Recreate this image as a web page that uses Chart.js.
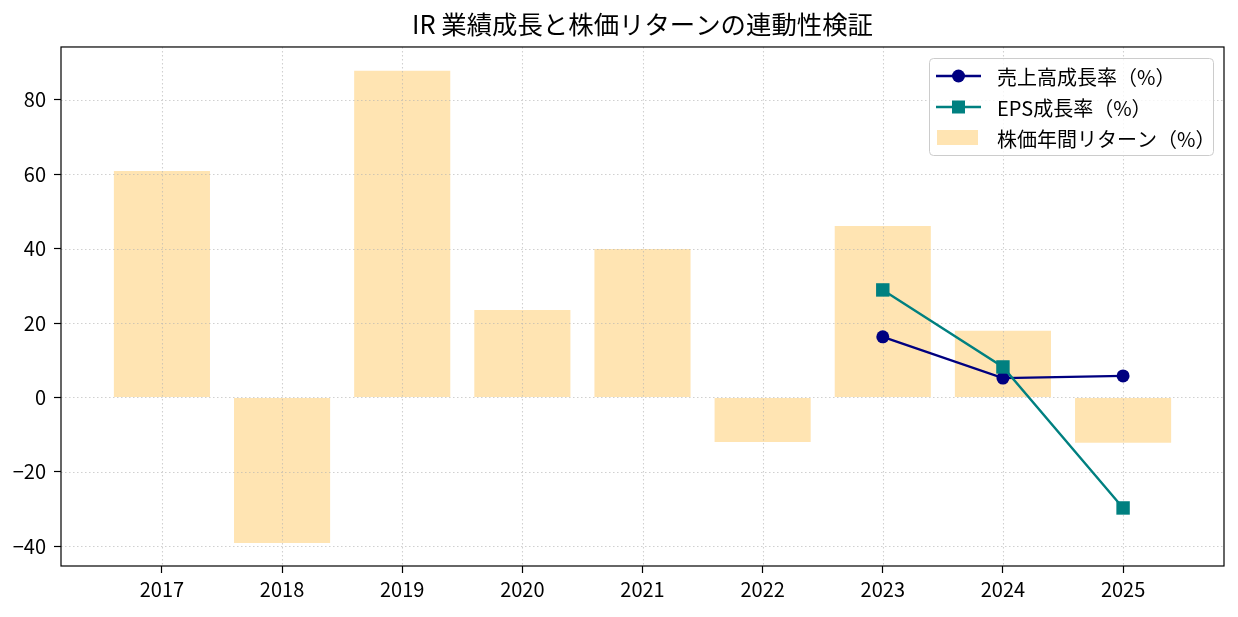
<!DOCTYPE html>
<html>
<head>
<meta charset="utf-8">
<script src="https://cdn.jsdelivr.net/npm/chart.js@4"></script>
<style>
  html, body { margin: 0; padding: 0; background: #fff; }
</style>
</head>
<body>
<canvas id="myChart" width="1238" height="617"></canvas>
<script>
// data
const years = ['2017', '2018', '2019', '2020', '2021', '2022', '2023', '2024', '2025'];
const stockReturn = [60.9, -39.1, 87.8, 23.5, 39.9, -12.0, 46.1, 17.9, -12.2];
const revenueGrowth = [null, null, null, null, null, null, 16.3, 5.2, 5.8];
const epsGrowth = [null, null, null, null, null, null, 28.9, 8.2, -29.7];
const yTicks = [-40, -20, 0, 20, 40, 60, 80];

const fontFamily = '"Noto Sans CJK JP", sans-serif';

const toPoints = arr => arr
    .map((v, i) => ({ x: i, y: v }))
    .filter(p => p.y !== null);

const legendItems = [
    { label: '売上高成長率（%）', kind: 'line', color: '#000080', marker: 'circle' },
    { label: 'EPS成長率（%）', kind: 'line', color: '#008080', marker: 'rect' },
    { label: '株価年間リターン（%）', kind: 'bar', color: 'rgba(255,165,0,0.3)' }
];

// dotted grid drawn just above the bars (matplotlib style)
const gridPlugin = {
    id: 'dotGrid',
    afterDatasetDraw(chart, args) {
        if (args.index !== 2) return;
        const { ctx, chartArea: a, scales: { x, y } } = chart;
        ctx.save();
        ctx.strokeStyle = 'rgba(176,176,176,0.6)';
        ctx.lineWidth = 1.1;
        ctx.setLineDash([1.5, 2.5]);
        x.ticks.forEach(t => {
            const px = Math.round(x.getPixelForValue(t.value)) + 0.5;
            ctx.beginPath();
            ctx.moveTo(px, a.top);
            ctx.lineTo(px, a.bottom);
            ctx.stroke();
        });
        y.ticks.forEach(t => {
            const py = Math.round(y.getPixelForValue(t.value)) + 0.5;
            ctx.beginPath();
            ctx.moveTo(a.left, py);
            ctx.lineTo(a.right, py);
            ctx.stroke();
        });
        ctx.restore();
    }
};

// frame + legend box
const framePlugin = {
    id: 'frameLegend',
    afterDraw(chart) {
        const { ctx, chartArea: a } = chart;
        ctx.save();
        ctx.strokeStyle = '#000';
        ctx.lineWidth = 1.2;
        ctx.strokeRect(a.left, a.top, a.right - a.left, a.bottom - a.top);

        // legend
        const bx = 929, by = 58, bw = 284, bh = 97;
        ctx.beginPath();
        ctx.roundRect(bx + 0.5, by + 0.5, bw, bh, 4);
        ctx.fillStyle = 'rgba(255,255,255,0.8)';
        ctx.fill();
        ctx.strokeStyle = '#cccccc';
        ctx.lineWidth = 1;
        ctx.stroke();

        const rows = [76, 107, 138];
        ctx.font = '20px ' + fontFamily;
        ctx.textBaseline = 'middle';
        ctx.textAlign = 'left';
        legendItems.forEach((it, i) => {
            const cy = rows[i];
            if (it.kind === 'line') {
                ctx.strokeStyle = it.color;
                ctx.lineWidth = 2.4;
                ctx.beginPath();
                ctx.moveTo(936, cy);
                ctx.lineTo(981, cy);
                ctx.stroke();
                ctx.fillStyle = it.color;
                ctx.beginPath();
                if (it.marker === 'circle') {
                    ctx.arc(958.5, cy, 6.5, 0, Math.PI * 2);
                } else {
                    ctx.rect(952, cy - 6.5, 13, 13);
                }
                ctx.fill();
            } else {
                ctx.fillStyle = it.color;
                ctx.fillRect(937, cy - 8, 41, 15);
            }
            ctx.fillStyle = '#000';
            ctx.fillText(it.label, 997, cy + 1);
        });
        ctx.restore();
    }
};

const ctx = document.getElementById('myChart').getContext('2d');
const chart = new Chart(ctx, {
    data: {
        datasets: [
            {
                type: 'line',
                label: 'EPS成長率（%）',
                data: toPoints(epsGrowth),
                borderColor: '#008080',
                backgroundColor: '#008080',
                borderWidth: 2.4,
                pointStyle: 'rect',
                pointRadius: 9.5,
                pointBorderWidth: 0,
                order: 0
            },
            {
                type: 'line',
                label: '売上高成長率（%）',
                data: toPoints(revenueGrowth),
                borderColor: '#000080',
                backgroundColor: '#000080',
                borderWidth: 2.4,
                pointStyle: 'circle',
                pointRadius: 6.5,
                pointBorderWidth: 0,
                order: 1
            },
            {
                type: 'bar',
                label: '株価年間リターン（%）',
                data: toPoints(stockReturn),
                backgroundColor: 'rgba(255,165,0,0.3)',
                borderWidth: 0,
                barPercentage: 0.8,
                categoryPercentage: 1.0,
                order: 2
            }
        ]
    },
    options: {
        responsive: false,
        animation: false,
        layout: { padding: { left: 0, right: 14, top: 0, bottom: 0 } },
        plugins: {
            legend: { display: false },
            tooltip: { enabled: false },
            title: {
                display: true,
                fullSize: false,
                text: 'IR 業績成長と株価リターンの連動性検証',
                color: '#000',
                font: { family: fontFamily, size: 25.4, weight: 'normal' },
                padding: { top: 9.5, bottom: 7 }
            }
        },
        scales: {
            x: {
                type: 'linear',
                offset: false,
                min: -0.84,
                max: 8.84,
                afterBuildTicks: scale => {
                    scale.ticks = years.map((_, i) => ({ value: i }));
                },
                afterFit: scale => { scale.height = 51; },
                ticks: {
                    callback: v => years[v],
                    color: '#000',
                    font: { family: fontFamily, size: 20 },
                    padding: 4,
                    autoSkip: false,
                    maxRotation: 0
                },
                grid: {
                    offset: false,
                    drawOnChartArea: false,
                    drawTicks: true,
                    tickLength: 7,
                    tickColor: '#000',
                    tickWidth: 1.2
                },
                border: { display: false }
            },
            y: {
                min: -45.3,
                max: 94.2,
                afterBuildTicks: scale => {
                    scale.ticks = yTicks.map(v => ({ value: v }));
                },
                afterFit: scale => { scale.width = 61; },
                ticks: {
                    callback: v => (v < 0 ? '\u2212' + Math.abs(v) : String(v)),
                    color: '#000',
                    font: { family: fontFamily, size: 20 },
                    padding: 8
                },
                grid: {
                    drawOnChartArea: false,
                    drawTicks: true,
                    tickLength: 7,
                    tickColor: '#000',
                    tickWidth: 1.2
                },
                border: { display: false }
            }
        }
    },
    plugins: [gridPlugin, framePlugin]
});
</script>
</body>
</html>
